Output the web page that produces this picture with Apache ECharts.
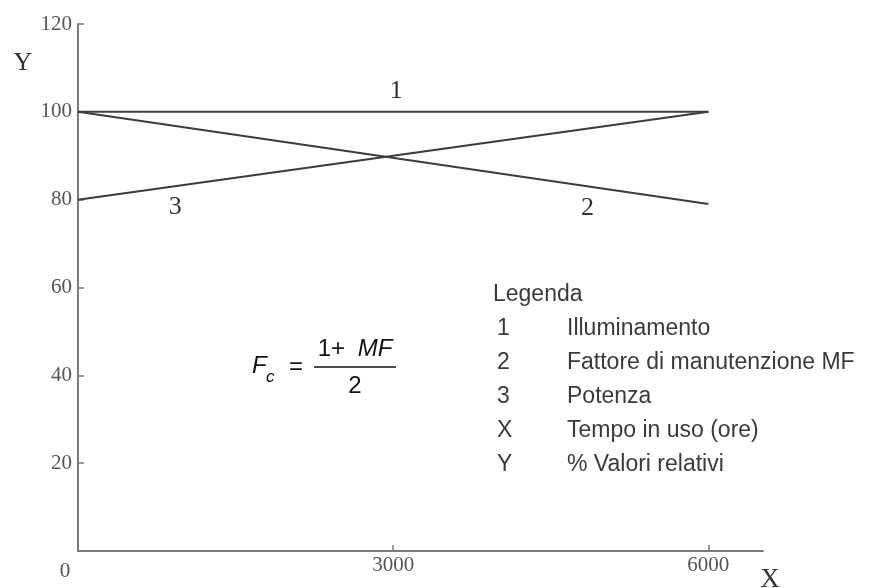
<!DOCTYPE html>
<html><head><meta charset="utf-8">
<script src="https://cdn.jsdelivr.net/npm/echarts@6/dist/echarts.min.js"></script>
<style>html,body{margin:0;padding:0;background:#fff}#c{width:869px;height:588px}</style>
</head><body><div id="c"></div>
<script>
// ---- data ----
const xValues = [0, 6000];
const illuminamento = [100, 100];
const fattoreMF = [100, 79];
const potenza = [80, 100];
const yTickValues = [20, 40, 60, 80, 100, 120];
const xLabelValues = [0, 3000, 6000];
const xTickValues = [3000, 6000];
const curveIds = ['1', '2', '3'];
const curveLabelAt = [[3030, 104.8], [4850, 78], [925, 78.3]];
const legendTitle = 'Legenda';
const legendKeys = ['1', '2', '3', 'X', 'Y'];
const legendTexts = ['Illuminamento', 'Fattore di manutenzione MF', 'Potenza', 'Tempo in uso (ore)', '% Valori relativi'];

const serif = '"Liberation Serif", "DejaVu Serif", serif';
const sans = '"Liberation Sans", Arial, sans-serif';
const axisColor = '#7a7a7a';
const lineColor = '#3c3c3c';

function pts(ys) { return xValues.map((x, i) => [x, ys[i]]); }
const seriesVals = [illuminamento, fattoreMF, potenza];

const chart = echarts.init(document.getElementById('c'), null, { renderer: 'canvas' });

const series = seriesVals.map((vals, i) => ({
  type: 'line',
  data: pts(vals),
  symbol: 'none',
  lineStyle: { color: lineColor, width: 2 },
  silent: true,
  markPoint: {
    symbol: 'circle', symbolSize: 1,
    itemStyle: { color: 'rgba(0,0,0,0)' },
    label: { show: true, position: 'inside', formatter: curveIds[i], fontFamily: serif, fontSize: 26, color: '#333' },
    data: [{ coord: curveLabelAt[i] }]
  }
}));

const graphic = [];
graphic.push({ type: 'text', x: 23, y: 63, style: { text: 'Y', font: '26px ' + serif, fill: '#333', align: 'center', verticalAlign: 'middle' } });
graphic.push({ type: 'text', x: 770, y: 580, style: { text: 'X', font: '27px ' + serif, fill: '#333', align: 'center', verticalAlign: 'middle' } });
graphic.push({ type: 'text', x: 493, y: 295, style: { text: legendTitle, font: '23px ' + sans, fill: '#3a3a3a', verticalAlign: 'middle' } });
legendKeys.forEach((k, i) => {
  const y = 329 + i * 34;
  graphic.push({ type: 'text', x: 497, y: y, style: { text: k, font: '23px ' + sans, fill: '#3a3a3a', verticalAlign: 'middle' } });
  graphic.push({ type: 'text', x: 567, y: y, style: { text: legendTexts[i], font: '23px ' + sans, fill: '#3a3a3a', verticalAlign: 'middle' } });
});
// formula Fc = (1 + MF) / 2
graphic.push({ type: 'text', x: 252, y: 366, style: { text: 'F', font: 'italic 24px ' + sans, fill: '#111', verticalAlign: 'middle' } });
graphic.push({ type: 'text', x: 266, y: 377, style: { text: 'c', font: 'italic 17px ' + sans, fill: '#111', verticalAlign: 'middle' } });
graphic.push({ type: 'text', x: 289, y: 367, style: { text: '=', font: '24px ' + sans, fill: '#111', verticalAlign: 'middle' } });
graphic.push({ type: 'line', shape: { x1: 314, y1: 367, x2: 396, y2: 367 }, style: { stroke: '#111', lineWidth: 1.5 } });
graphic.push({ type: 'text', x: 355, y: 349, style: { text: '1+ {i|MF}', font: '24px ' + sans, fill: '#111', align: 'center', verticalAlign: 'middle',
  rich: { i: { fontStyle: 'italic', fontSize: 24, fontFamily: sans, fill: '#111', padding: [0, 0, 0, 6] } } } });
graphic.push({ type: 'text', x: 355, y: 386, style: { text: '2', font: '24px ' + sans, fill: '#111', align: 'center', verticalAlign: 'middle' } });

chart.setOption({
  animation: false,
  backgroundColor: '#fff',
  grid: { left: 78, right: 106, top: 24, bottom: 37, containLabel: false, outerBoundsMode: 'none' },
  xAxis: {
    type: 'value', min: 0, max: 6520,
    splitLine: { show: false },
    axisLine: { show: true, onZero: false, lineStyle: { color: axisColor, width: 2 } },
    axisTick: { show: true, inside: true, length: 6, customValues: xTickValues, lineStyle: { color: axisColor, width: 1.5 } },
    axisLabel: {
      customValues: xLabelValues, margin: 4, color: '#555', fontFamily: serif, fontSize: 21,
      formatter: v => v === 0 ? '{o|0}' : String(v),
      rich: { o: { fontFamily: serif, fontSize: 21, color: '#555', padding: [6, 26, 0, 0] } }
    }
  },
  yAxis: {
    type: 'value', min: 0, max: 120, interval: 20,
    splitLine: { show: false },
    axisLine: { show: true, onZero: false, lineStyle: { color: axisColor, width: 2 } },
    axisTick: { show: true, inside: true, length: 6, customValues: yTickValues, lineStyle: { color: axisColor, width: 1.5 } },
    axisLabel: { customValues: yTickValues, margin: 6, color: '#555', fontFamily: serif, fontSize: 21 }
  },
  series: series,
  graphic: graphic
});
</script>
</body></html>
